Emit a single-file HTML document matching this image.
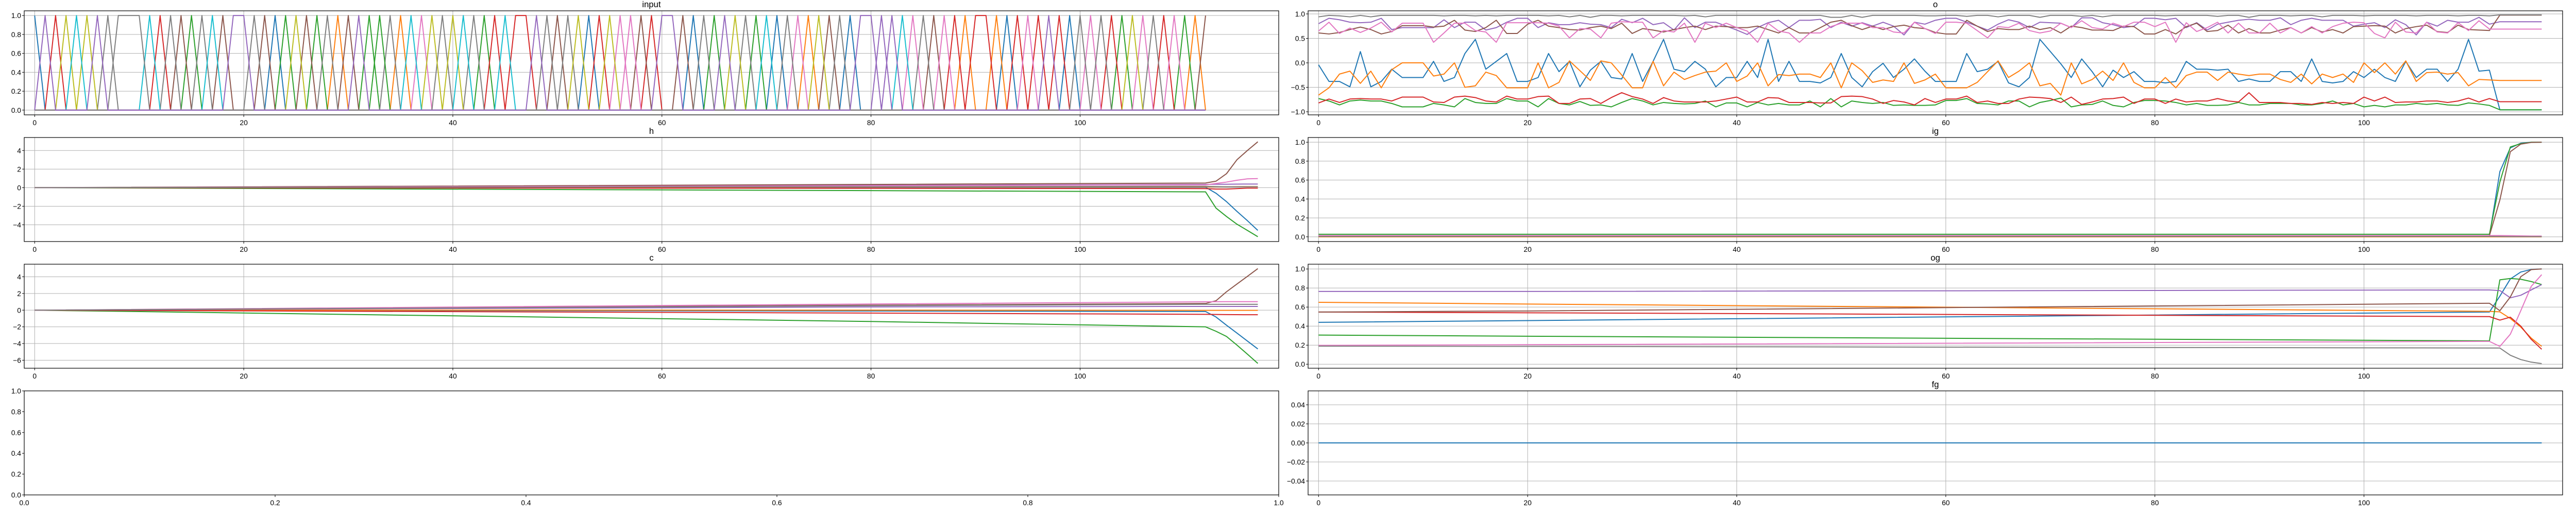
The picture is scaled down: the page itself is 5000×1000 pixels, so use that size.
<!DOCTYPE html>
<html><head><meta charset="utf-8">
<style>
html,body{margin:0;padding:0;background:#fff;}
svg{display:block;font-family:"Liberation Sans","DejaVu Sans",sans-serif;}
</style></head>
<body>
<svg id="fig" width="5000" height="1000" viewBox="0 0 5000 1000" xmlns="http://www.w3.org/2000/svg">
<rect x="0" y="0" width="5000" height="1000" fill="#fff"/>
</svg>
<script>
// ---------- data ----------
const tab10 = ["#1f77b4","#ff7f0e","#2ca02c","#d62728","#9467bd","#8c564b","#e377c2","#7f7f7f","#bcbd22","#17becf"];

// input: active one-hot channel per timestep (color = channel % 10)
const inputChannel = [0,4,3,8,9,8,4,7,17,17,17,9,3,7,5,2,7,9,5,4,4,7,5,0,2,8,5,2,7,1,5,4,2,12,7,1,9,6,8,7,8,9,7,2,3,9,3,3,4,7,5,7,8,0,3,8,6,16,5,3,4,4,5,0,7,2,4,8,7,2,9,0,7,6,1,8,5,7,0,4,4,14,4,9,6,7,5,6,3,1,3,3,1,0,3,6,3,4,3,0,7,6,7,3,2,8,6,7,3,6,2,1,5];

const oBlue = [-0.04,-0.38,-0.38,-0.49,0.23,-0.49,-0.38,-0.13,-0.30,-0.30,-0.30,0.03,-0.38,-0.30,0.19,0.48,-0.13,0.03,0.19,-0.38,-0.38,-0.30,0.19,-0.18,0.03,-0.49,-0.15,0.03,-0.30,-0.33,0.19,-0.38,0.03,0.48,-0.13,-0.18,0.03,-0.13,-0.49,-0.30,-0.30,0.03,-0.30,0.48,-0.38,0.03,-0.38,-0.38,-0.41,-0.30,0.19,-0.30,-0.49,-0.18,-0.01,-0.30,-0.13,0.08,-0.17,
-0.38,-0.38,-0.38,0.19,-0.18,-0.13,0.03,-0.41,-0.49,-0.30,0.48,0.23,-0.02,-0.30,0.08,-0.18,-0.49,-0.15,-0.30,-0.18,-0.38,-0.38,-0.41,-0.38,0.03,-0.13,-0.13,-0.15,-0.13,-0.38,-0.33,-0.38,-0.38,-0.18,-0.18,-0.38,0.08,-0.38,-0.41,-0.38,-0.18,-0.30,-0.13,-0.30,-0.38,0.03,-0.30,
-0.13,-0.13,-0.38,-0.13,0.48,-0.17,-0.15,-0.96,-0.96,-0.96,-0.96,-0.96];
const oOrange = [-0.66,-0.51,-0.23,-0.17,-0.42,-0.17,-0.51,-0.14,0,0,0,-0.27,-0.23,0,-0.50,-0.47,-0.19,-0.26,-0.51,-0.51,-0.51,0,-0.51,-0.40,0.04,-0.16,-0.36,0.04,0,-0.25,-0.51,-0.51,0.03,-0.47,-0.19,-0.34,-0.26,-0.19,-0.17,0,-0.38,-0.27,0,-0.47,-0.24,-0.26,-0.23,-0.23,-0.30,0,-0.51,0,-0.16,-0.40,-0.35,-0.38,0,-0.42,-0.35,
-0.23,-0.51,-0.51,-0.51,-0.40,-0.18,0.04,-0.30,-0.17,0,-0.47,-0.42,-0.66,0,-0.43,-0.34,-0.17,-0.36,0,-0.40,-0.51,-0.51,-0.30,-0.51,-0.26,-0.19,-0.19,-0.36,-0.19,-0.23,-0.26,-0.23,-0.23,-0.34,-0.40,-0.23,-0.43,-0.23,-0.30,-0.23,-0.40,0,-0.20,0,-0.23,0.04,-0.38,
-0.20,-0.19,-0.23,-0.20,-0.47,-0.34,-0.35,-0.36,-0.36,-0.36,-0.36,-0.36];
const oGreen = [-0.73,-0.78,-0.86,-0.78,-0.76,-0.78,-0.78,-0.83,-0.90,-0.90,-0.90,-0.83,-0.86,-0.90,-0.73,-0.81,-0.83,-0.83,-0.73,-0.78,-0.78,-0.90,-0.73,-0.83,-0.86,-0.79,-0.87,-0.86,-0.90,-0.81,-0.73,-0.78,-0.86,-0.81,-0.83,-0.84,-0.83,-0.78,-0.90,-0.82,-0.82,-0.90,-0.81,-0.86,-0.83,-0.86,-0.86,-0.78,-0.90,-0.73,-0.90,-0.78,-0.81,-0.83,-0.81,-0.87,-0.86,-0.87,-0.87,
-0.86,-0.77,-0.77,-0.73,-0.83,-0.84,-0.86,-0.78,-0.78,-0.90,-0.81,-0.77,-0.72,-0.90,-0.86,-0.85,-0.78,-0.87,-0.90,-0.81,-0.77,-0.77,-0.78,-0.81,-0.86,-0.83,-0.87,-0.87,-0.86,-0.81,-0.86,-0.86,-0.83,-0.83,-0.83,-0.86,-0.86,-0.83,-0.78,-0.86,-0.83,-0.90,-0.87,-0.90,-0.86,-0.86,-0.83,
-0.85,-0.83,-0.86,-0.87,-0.82,-0.84,-0.87,-0.96,-0.96,-0.96,-0.96,-0.96];
const oRed = [-0.82,-0.74,-0.81,-0.74,-0.73,-0.74,-0.74,-0.78,-0.70,-0.70,-0.70,-0.80,-0.81,-0.70,-0.68,-0.71,-0.78,-0.80,-0.68,-0.74,-0.74,-0.69,-0.68,-0.83,-0.83,-0.74,-0.73,-0.83,-0.71,-0.61,-0.69,-0.74,-0.83,-0.71,-0.78,-0.80,-0.80,-0.80,-0.78,-0.74,-0.70,-0.80,-0.80,-0.71,-0.72,-0.81,-0.81,-0.81,-0.82,-0.82,-0.69,-0.68,-0.69,-0.74,-0.83,-0.77,-0.80,-0.86,-0.73,
-0.81,-0.74,-0.74,-0.68,-0.81,-0.78,-0.83,-0.83,-0.74,-0.70,-0.71,-0.73,-0.81,-0.70,-0.85,-0.80,-0.74,-0.73,-0.70,-0.83,-0.74,-0.74,-0.83,-0.74,-0.80,-0.78,-0.78,-0.73,-0.78,-0.80,-0.61,-0.81,-0.81,-0.81,-0.83,-0.83,-0.85,-0.81,-0.83,-0.81,-0.83,-0.70,-0.78,-0.70,-0.81,-0.80,-0.80,
-0.78,-0.78,-0.81,-0.78,-0.72,-0.80,-0.73,-0.795,-0.795,-0.795,-0.795,-0.795];
const oPurple = [0.80,0.91,0.88,0.83,0.82,0.83,0.91,0.68,0.72,0.72,0.72,0.72,0.88,0.72,0.83,0.83,0.67,0.72,0.83,0.91,0.91,0.72,0.82,0.78,0.78,0.82,0.79,0.78,0.72,0.89,0.82,0.91,0.78,0.82,0.67,0.92,0.72,0.83,0.83,0.75,0.67,0.58,0.72,0.82,0.87,0.72,0.87,0.87,0.89,0.72,0.83,0.75,0.82,0.75,0.83,0.75,0.57,0.83,0.79,
0.87,0.91,0.91,0.83,0.75,0.67,0.79,0.88,0.83,0.72,0.83,0.82,0.81,0.72,0.92,0.92,0.82,0.78,0.72,0.75,0.91,0.91,0.88,0.91,0.72,0.82,0.67,0.79,0.83,0.87,0.89,0.87,0.87,0.92,0.78,0.87,0.91,0.87,0.87,0.87,0.75,0.79,0.82,0.72,0.88,0.78,0.57,
0.83,0.75,0.87,0.83,0.83,0.93,0.79,0.84,0.84,0.84,0.84,0.84];
const oBrown = [0.61,0.59,0.62,0.68,0.73,0.68,0.59,0.64,0.76,0.76,0.76,0.73,0.75,0.87,0.67,0.64,0.72,0.87,0.60,0.60,0.79,0.87,0.75,0.72,0.68,0.67,0.72,0.75,0.70,0.81,0.60,0.70,0.67,0.63,0.68,0.72,0.75,0.68,0.75,0.74,0.72,0.72,0.75,0.68,0.61,0.72,0.61,0.61,0.72,0.83,0.87,0.76,0.68,0.75,0.68,0.74,0.77,0.72,0.70,
0.62,0.59,0.59,0.87,0.75,0.64,0.70,0.68,0.68,0.75,0.68,0.72,0.61,0.75,0.72,0.67,0.67,0.66,0.75,0.74,0.59,0.59,0.68,0.59,0.74,0.81,0.64,0.66,0.77,0.61,0.70,0.61,0.61,0.67,0.72,0.61,0.72,0.63,0.68,0.61,0.74,0.75,0.76,0.75,0.61,0.70,0.74,
0.77,0.64,0.62,0.77,0.68,0.67,0.66,0.975,0.975,0.975,0.975,0.975];
const oPink = [0.65,0.83,0.60,0.71,0.62,0.71,0.83,0.63,0.81,0.81,0.81,0.42,0.61,0.81,0.81,0.66,0.63,0.42,0.82,0.82,0.82,0.82,0.81,0.75,0.51,0.70,0.69,0.51,0.81,0.84,0.83,0.83,0.51,0.66,0.63,0.81,0.42,0.81,0.72,0.81,0.72,0.65,0.42,0.81,0.65,0.61,0.42,0.61,0.61,0.74,0.81,0.81,0.81,0.72,0.72,0.63,0.61,0.83,0.70,
0.60,0.83,0.83,0.81,0.66,0.51,0.74,0.72,0.81,0.66,0.61,0.65,0.81,0.72,0.86,0.72,0.69,0.81,0.74,0.83,0.83,0.74,0.83,0.42,0.82,0.64,0.72,0.83,0.61,0.81,0.61,0.61,0.81,0.61,0.72,0.61,0.74,0.61,0.74,0.81,0.83,0.82,0.60,0.51,0.83,0.63,0.61,
0.83,0.63,0.61,0.82,0.66,0.86,0.69,0.69,0.69,0.69,0.69,0.69];
const oGray = [0.94,0.97,0.96,0.94,0.97,0.94,0.97,0.97,0.97,0.97,0.97,0.97,0.96,0.97,0.97,0.96,0.97,0.96,0.97,0.97,0.97,0.97,0.96,0.97,0.94,0.97,0.93,0.97,0.97,0.96,0.97,0.97,0.97,0.97,0.97,0.96,0.97,0.94,0.97,0.97,0.97,0.97,0.97,0.97,0.97,0.97,0.97,0.97,0.97,0.93,0.93,0.97,0.93,0.97,0.97,0.97,0.97,0.97,0.96,
0.96,0.97,0.97,0.95,0.97,0.97,0.94,0.97,0.97,0.97,0.93,0.97,0.97,0.97,0.95,0.97,0.94,0.97,0.97,0.97,0.97,0.97,0.96,0.97,0.97,0.97,0.97,0.95,0.97,0.97,0.93,0.97,0.97,0.97,0.96,0.97,0.97,0.94,0.97,0.97,0.97,0.96,0.97,0.97,0.97,0.97,0.96,
0.97,0.97,0.97,0.96,0.97,0.97,0.96,0.98,0.98,0.98,0.98,0.98];

// h (sampled timesteps)
const hSteps = [0,80,112,113,114,115,116,117];
const hBlue   = [0,0.03,0.05,-0.6,-1.5,-2.55,-3.55,-4.6];
const hOrange = [0,0.07,0.1,0.1,0.1,0.11,0.12,0.12];
const hGreen  = [0,-0.32,-0.45,-2.2,-3.1,-3.93,-4.6,-5.28];
const hRed    = [0,-0.07,-0.1,-0.15,-0.15,-0.1,-0.05,-0.05];
const hPurple = [0,0.25,0.35,0.37,0.37,0.38,0.39,0.39];
const hBrown  = [0,0.35,0.5,0.7,1.5,3.0,4.0,4.94];
const hPink   = [0,0.21,0.3,0.45,0.6,0.8,0.95,0.98];
const hGray   = [0,0.1,0.15,0.12,0.1,0.1,0.1,0.1];

// c
const cSteps = [0,80,112,113,114,115,116,117];
const cBlue   = [0,-0.1,-0.16,-0.82,-1.8,-2.74,-3.7,-4.65];
const cOrange = [0,0,-0.02,-0.02,-0.02,-0.02,-0.02,-0.02];
const cGreen  = [0,-1.36,-2.0,-2.53,-3.15,-4.18,-5.27,-6.38];
const cRed    = [0,-0.35,-0.5,-0.52,-0.53,-0.54,-0.55,-0.55];
const cPurple = [0,0.39,0.45,0.45,0.45,0.45,0.45,0.45];
const cBrown  = [0,0.6,0.8,1.13,2.2,3.13,4.05,4.98];
const cPink   = [0,0.74,1.0,1.01,1.02,1.02,1.02,1.02];
const cGray   = [0,0.53,0.7,0.7,0.7,0.7,0.7,0.7];

// ig
const igSteps = [0,112,113,114,115,116,117];
const igBlue   = [0.01,0.01,0.69,0.94,0.99,1.0,1.0];
const igOrange = [0.0,0.0,0.0,0.0,0.0,0.0,0.0];
const igGreen  = [0.027,0.027,0.58,0.95,0.985,1.0,1.0];
const igRed    = [0.005,0.005,0.005,0.004,0.004,0.004,0.004];
const igPurple = [0.01,0.01,0.008,0.006,0.005,0.005,0.005];
const igBrown  = [0.012,0.012,0.39,0.9,0.98,0.998,1.0];
const igPink   = [0.013,0.013,0.013,0.012,0.01,0.008,0.008];
const igGray   = [0.004,0.004,0.003,0.002,0.002,0.002,0.002];

// og
const ogSteps = [0,20,112,113,114,115,116,117];
const ogBlue   = [0.44,0.458,0.548,0.715,0.895,0.968,0.995,1.0];
const ogOrange = [0.65,0.632,0.555,0.55,0.48,0.39,0.274,0.187];
const ogGreen  = [0.306,0.294,0.245,0.886,0.9,0.892,0.868,0.836];
const ogRed    = [0.548,0.54,0.5,0.463,0.494,0.4,0.261,0.157];
const ogPurple = [0.764,0.764,0.78,0.773,0.697,0.724,0.78,0.836];
const ogBrown  = [0.548,0.559,0.64,0.562,0.706,0.919,0.993,1.0];
const ogPink   = [0.198,0.205,0.24,0.187,0.315,0.562,0.818,0.94];
const ogGray   = [0.19,0.187,0.17,0.17,0.094,0.049,0.022,0.007];

// fg
const fgSteps = [0,117];
const fgValues = [0,0];

// tick labels
const xTicks = [0,20,40,60,80,100];
const unitTicks = [0,0.2,0.4,0.6,0.8,1.0];
const unitTickLabels = ["0.0","0.2","0.4","0.6","0.8","1.0"];
const oTicks = [-1,-0.5,0,0.5,1];
const oTickLabels = ["\u22121.0","\u22120.5","0.0","0.5","1.0"];
const hTicks = [-4,-2,0,2,4];
const hTickLabels = ["\u22124","\u22122","0","2","4"];
const cTicks = [-6,-4,-2,0,2,4];
const cTickLabels = ["\u22126","\u22124","\u22122","0","2","4"];
const fgTicks = [-0.04,-0.02,0,0.02,0.04];
const fgTickLabels = ["\u22120.04","\u22120.02","0.00","0.02","0.04"];

// ---------- drawing ----------
const NS = "http://www.w3.org/2000/svg";
const svg = document.getElementById("fig");
function mk(tag, attrs, parent){
  const e = document.createElementNS(NS, tag);
  for (const k in attrs) e.setAttribute(k, attrs[k]);
  (parent||svg).appendChild(e);
  return e;
}
const COLS = [[47,2482],[2539,4974]];
const ROWS = [[21,223],[267,469],[513,715],[759,961]];

function makeAxes(name, col, row, xlim, ylim, yTicks, yLabels, xT, xLabels, grid, title){
  const [L,R] = COLS[col], [T,B] = ROWS[row];
  const g = mk("g", {});
  
  
  const sx = v => L + (v - xlim[0]) / (xlim[1]-xlim[0]) * (R-L);
  const sy = v => B - (v - ylim[0]) / (ylim[1]-ylim[0]) * (B-T);
  const gridG = mk("g", {}, g);
  
  
  const tickG = mk("g", {"font-size":"13.9px", fill:"#000"}, g);
  
  
  xT.forEach((v,i)=>{
    const x = sx(v);
    if (grid) { const gl = mk("line",{x1:x,x2:x,y1:T,y2:B,stroke:"#b0b0b0","stroke-width":1}, gridG);
        }
    const tk = mk("line",{x1:x,x2:x,y1:B,y2:B+4,stroke:"#000","stroke-width":1}, tickG);
     
    const t = mk("text",{x:x,y:B+20,"text-anchor":"middle"}, tickG);
     
    t.textContent = xLabels[i];
  });
  yTicks.forEach((v,i)=>{
    const y = sy(v);
    if (grid) { const gl = mk("line",{x1:L,x2:R,y1:y,y2:y,stroke:"#b0b0b0","stroke-width":1}, gridG);
        }
    const tk = mk("line",{x1:L-4,x2:L,y1:y,y2:y,stroke:"#000","stroke-width":1}, tickG);
     
    const t = mk("text",{x:L-6,y:y+5,"text-anchor":"end"}, tickG);
     
    t.textContent = yLabels[i];
  });
  const lines = mk("g", {fill:"none","stroke-width":2,"stroke-linejoin":"round"}, g);
  
  
  const frame = mk("rect",{x:L,y:T,width:R-L,height:B-T,fill:"none",stroke:"#000","stroke-width":1.2}, g);
  
  
  if (title) {
    const tt = mk("text",{x:(L+R)/2,y:T-7,"text-anchor":"middle","font-size":"16.7px",fill:"#000"}, g);
    
    
    tt.textContent = title;
  }
  return {sx, sy, lines};
}
function drawSeries(ax, xs, ys, color, name){
  const pts = ys.map((v,i)=> ax.sx(xs[i]).toFixed(2)+","+ax.sy(v).toFixed(2)).join(" ");
  const p = mk("polyline",{points:pts, stroke:color}, ax.lines);
  
  
}
const idx = n => Array.from({length:n},(_,i)=>i);
const XL = [-1,119];
const xLab = xTicks.map(String);

// input
const axIn = makeAxes("input",0,0,XL,[-0.05,1.05],unitTicks,unitTickLabels,xTicks,xLab,true,"input");
let chans = [...new Set(inputChannel)].sort((a,b)=>a-b);
chans = chans.filter(c=>c!==4).concat([4]);
chans.forEach(c=>{
  const vals = inputChannel.map(k=> k===c ? 1 : 0);
  drawSeries(axIn, idx(vals.length), vals, tab10[c%10], "input-channel-"+c);
});

// o
const axO = makeAxes("o",1,0,XL,[-1.063,1.063],oTicks,oTickLabels,xTicks,xLab,true,"o");
[oBlue,oOrange,oGreen,oRed,oPurple,oBrown,oPink,oGray].forEach((s,i)=>drawSeries(axO, idx(s.length), s, tab10[i], "o-series-"+i));

// h
const axH = makeAxes("h",0,1,XL,[-5.8,5.4],hTicks,hTickLabels,xTicks,xLab,true,"h");
[hBlue,hOrange,hGreen,hRed,hPurple,hBrown,hPink,hGray].forEach((s,i)=>drawSeries(axH, hSteps, s, tab10[i], "h-series-"+i));

// ig
const axIg = makeAxes("ig",1,1,XL,[-0.05,1.05],unitTicks,unitTickLabels,xTicks,xLab,true,"ig");
[igBlue,igOrange,igGreen,igRed,igPurple,igBrown,igPink,igGray].forEach((s,i)=>drawSeries(axIg, igSteps, s, tab10[i], "ig-series-"+i));

// c
const axC = makeAxes("c",0,2,XL,[-6.96,5.51],cTicks,cTickLabels,xTicks,xLab,true,"c");
[cBlue,cOrange,cGreen,cRed,cPurple,cBrown,cPink,cGray].forEach((s,i)=>drawSeries(axC, cSteps, s, tab10[i], "c-series-"+i));

// og
const axOg = makeAxes("og",1,2,XL,[-0.042,1.05],unitTicks,unitTickLabels,xTicks,xLab,true,"og");
[ogBlue,ogOrange,ogGreen,ogRed,ogPurple,ogBrown,ogPink,ogGray].forEach((s,i)=>drawSeries(axOg, ogSteps, s, tab10[i], "og-series-"+i));

// empty
makeAxes("empty",0,3,[0,1],[0,1],unitTicks,unitTickLabels,unitTicks,unitTickLabels,false,null);

// fg
const axFg = makeAxes("fg",1,3,XL,[-0.0546,0.0546],fgTicks,fgTickLabels,xTicks,xLab,true,"fg");
drawSeries(axFg, fgSteps, fgValues, tab10[0], "fg-series-0");
</script>
</body></html>
